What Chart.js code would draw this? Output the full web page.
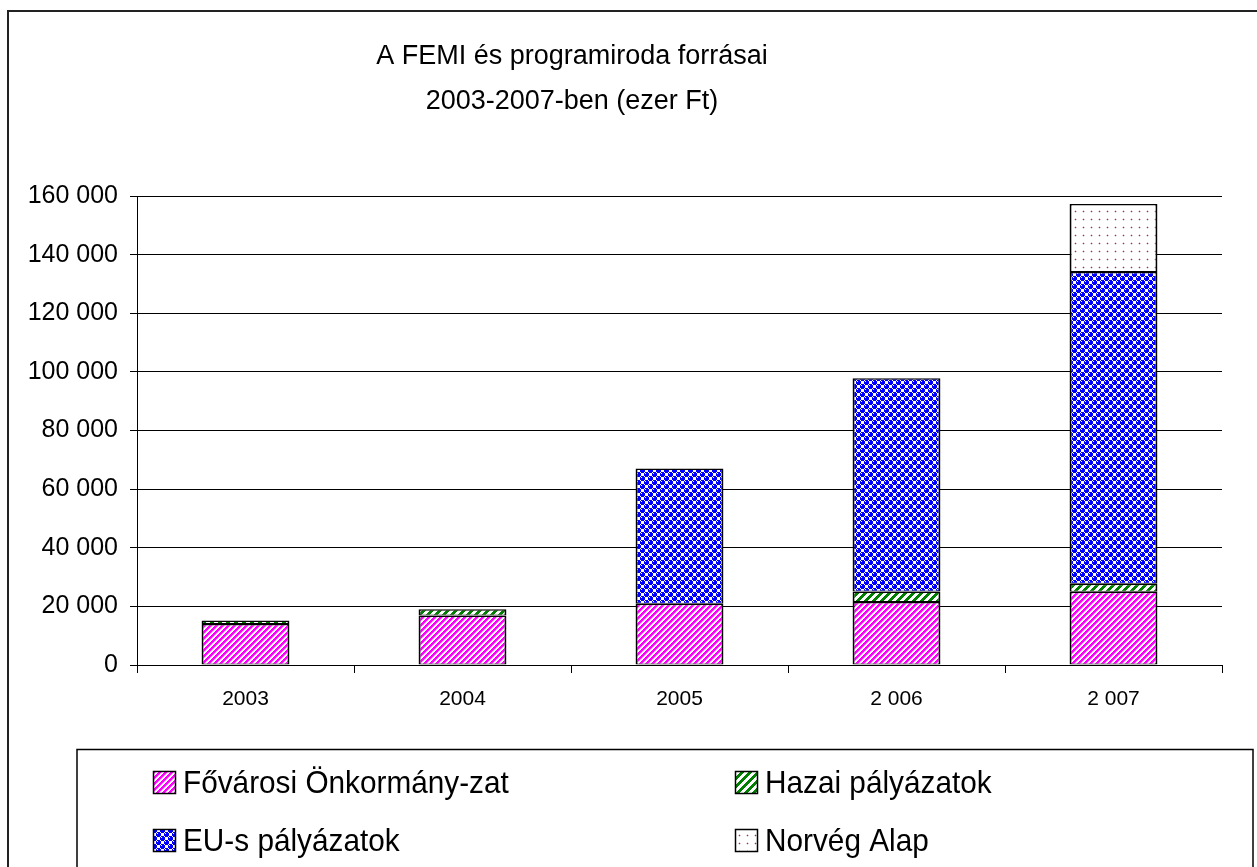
<!DOCTYPE html>
<html><head><meta charset="utf-8">
<script src="https://cdn.jsdelivr.net/npm/chart.js@4/dist/chart.umd.min.js"></script>
<style>html,body{margin:0;padding:0;background:#fff;overflow:hidden}#wrap{position:relative;width:1257px;height:867px}</style>
</head><body><div id="wrap"><canvas id="c" width="1257" height="867"></canvas></div>
<script>
const years = ['2003', '2004', '2005', '2 006', '2 007'];
const fovarosi = [14000, 16900, 20900, 21500, 25000];
const hazai = [1200, 2100, null, 3600, 2700];
const euPalyazatok = [null, null, 46100, 72700, 106400];
const norvegAlap = [null, null, null, null, 23200];
const seriesNames = ['Fővárosi Önkormány-zat', 'Hazai pályázatok', 'EU-s pályázatok', 'Norvég Alap'];
const titleLines = ['A FEMI és programiroda forrásai', '2003-2007-ben (ezer Ft)'];
const yMax = 160000, yStep = 20000;

const FONT = "'Liberation Sans', Arial, sans-serif";
const canvas = document.getElementById('c');
const ctx = canvas.getContext('2d');

function makePattern(size, bg, fn) {
  const c = document.createElement('canvas');
  c.width = c.height = size;
  const x = c.getContext('2d');
  x.fillStyle = bg; x.fillRect(0, 0, size, size);
  for (let j = 0; j < size; j++) for (let i = 0; i < size; i++) {
    const col = fn(i, j);
    if (col) { x.fillStyle = col; x.fillRect(i, j, 1, 1); }
  }
  return ctx.createPattern(c, 'repeat');
}
const pinkPat = makePattern(6, '#FFFFFF', (i, j) => ((i + j) % 6) < 3 ? '#FF00FF' : (((i + j) % 6) === 3 ? '#FF99FF' : null));
const greenPat = makePattern(8, '#FFFFFF', (i, j) => ((i + j) % 8) < 4 ? '#008000' : null);
const whiteBits = [0x88, 0x74, 0x70, 0x70, 0x88, 0x47, 0x07, 0x07];
const bluePat = makePattern(8, '#FFFFFF', (i, j) => ((whiteBits[j] >> (7 - i)) & 1) ? null : '#0000FF');
const dotPat = makePattern(8, '#FFFFFF', (i, j) => {
  if (i === 3 && j === 3) return '#A02868';
  if ((i === 2 || i === 4) && j === 3 || (j === 2 || j === 4) && i === 3) return '#E6CCD9';
  return null;
});
const patterns = [pinkPat, greenPat, bluePat, dotPat];

const fmt = v => String(v).replace(/\B(?=(\d{3})+(?!\d))/g, ' ');

const decor = {
  id: 'decor',
  beforeDraw(chart) {
    const c = chart.ctx;
    c.save(); c.fillStyle = '#fff'; c.fillRect(0, 0, chart.width, chart.height); c.restore();
  },
  afterDraw(chart) {
    const c = chart.ctx;
    c.save();
    // outer frame
    c.strokeStyle = '#222'; c.lineWidth = 2;
    c.strokeRect(8, 11, 1400, 1000);
    // title
    c.fillStyle = '#000'; c.font = '27px ' + FONT; c.textAlign = 'center'; c.textBaseline = 'alphabetic';
    c.fillText(titleLines[0], 572, 64);
    c.fillText(titleLines[1], 572, 109);
    // legend box
    c.strokeStyle = '#000'; c.lineWidth = 1.5;
    c.strokeRect(77, 749.5, 1176, 400);
    const pos = [[153, 771], [735, 771], [153, 829], [735, 829]];
    for (let k = 0; k < 4; k++) {
      const [x, y] = pos[k];
      c.fillStyle = patterns[k]; c.fillRect(x, y, 23, 23);
      c.strokeStyle = '#000'; c.lineWidth = 1.5; c.strokeRect(x + 0.5, y + 0.5, 22, 22);
      c.save();
      c.translate(x + 30, y + 22);
      c.scale(0.93, 1);
      c.font = '32px ' + FONT; c.textAlign = 'left'; c.fillStyle = '#000';
      c.fillText(seriesNames[k], 0, 0);
      c.restore();
    }
    c.restore();
  }
};

const series = [fovarosi, hazai, euPalyazatok, norvegAlap];
new Chart(ctx, {
  type: 'bar',
  data: {
    labels: years,
    datasets: series.map((d, k) => ({
      label: seriesNames[k], data: d, backgroundColor: patterns[k],
      borderColor: '#000', borderWidth: { top: 1.5, bottom: 1, left: 2, right: 2 }, borderSkipped: false,
      barPercentage: 0.405, categoryPercentage: 1
    }))
  },
  options: {
    responsive: false, animation: false,
    layout: { padding: { left: 0, right: 35, top: 196, bottom: 0 } },
    plugins: { legend: { display: false }, title: { display: false }, tooltip: { enabled: false } },
    scales: {
      x: {
        stacked: true,
        grid: { offset: true, drawOnChartArea: false, drawTicks: true, tickLength: 8, color: '#000' },
        border: { display: true, color: '#000', width: 1 },
        ticks: { color: '#000', font: { family: FONT, size: 21 }, padding: 14, maxRotation: 0 },
        afterFit(s) { s.height = 202; }
      },
      y: {
        stacked: true, min: 0, max: yMax,
        ticks: { stepSize: yStep, color: '#000', font: { family: FONT, size: 25 }, padding: 12, callback: fmt },
        grid: { color: '#000', tickLength: 7, drawTicks: true },
        border: { display: true, color: '#000', width: 1 },
        afterFit(s) { s.width = 137; }
      }
    }
  },
  plugins: [decor]
});
</script></body></html>
